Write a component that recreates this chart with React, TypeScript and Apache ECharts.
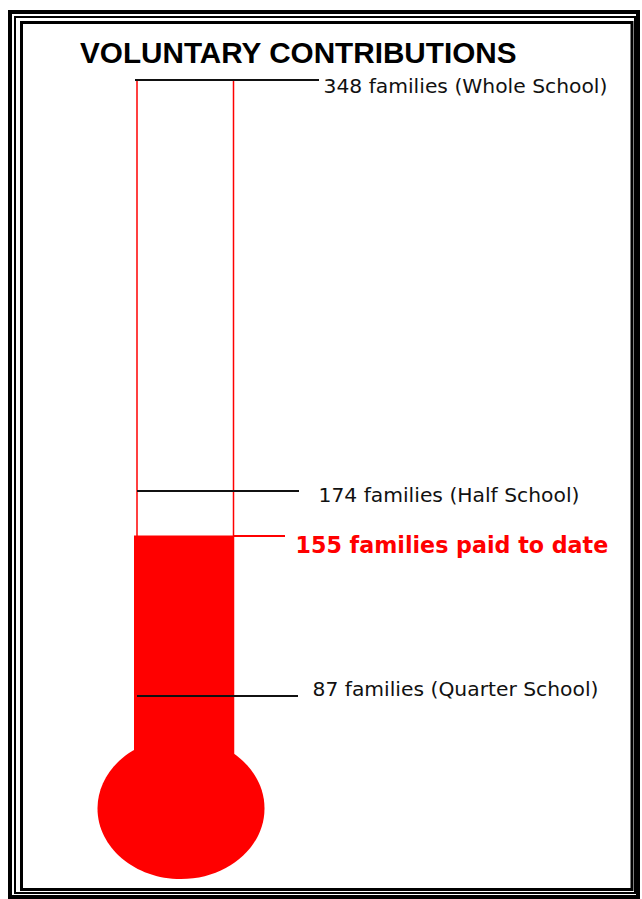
import React, { useEffect, useRef } from 'react';
import * as echarts from 'echarts';

// ---- data ----
const TITLE = 'VOLUNTARY CONTRIBUTIONS';
const paidToDate = 155;
const paidText = 'families paid to date';
const milestoneValues = [348, 174, 87];
const milestoneNames = ['Whole School', 'Half School', 'Quarter School'];

// ---- layout ----
const W = 642;
const H = 899;
const Y_MIN = 30;
const Y_MAX = 380;
const GRID_TOP = 4.4;
const GRID_BOTTOM = 68.5;
const TUBE_CX = 183.5;
const TUBE_W = 99;
const LINE_X0 = [135, 137, 137];
const LINE_X1 = [319, 299, 298];
const LABEL_GAP = [4, 19, 14];
const LABEL_DY = [6, 4, -7];
const PAID_X0 = 233;
const PAID_X1 = 285;
const PAID_GAP = 10;
const PAID_DY = 10;

const RED = '#ff0000';
const INK = '#111111';

export default function App() {
  const ref = useRef<HTMLDivElement>(null);
  useEffect(() => {
    if (!ref.current) return;
    const chart = echarts.init(ref.current, undefined, { renderer: 'svg' });

    const milestoneLines = milestoneValues.map((v, i) => [
      {
        coord: [LINE_X0[i], v],
        lineStyle: { color: INK, width: 2, type: 'solid' },
        label: { show: false },
      },
      { coord: [LINE_X1[i], v] },
    ]);

    const paidLine = [
      {
        coord: [PAID_X0, paidToDate],
        lineStyle: { color: RED, width: 2, type: 'solid' },
        label: { show: false },
      },
      { coord: [PAID_X1, paidToDate] },
    ];

    const labelData = [
      ...milestoneValues.map((v, i) => ({
        value: [LINE_X1[i], v],
        label: {
          show: true,
          position: 'right',
          distance: 0,
          offset: [LABEL_GAP[i], LABEL_DY[i]],
          formatter: `${v} families (${milestoneNames[i]})`,
          color: INK,
          opacity: 1,
          fontSize: 20.3,
          fontFamily: 'DejaVu Sans',
        },
      })),
      {
        value: [PAID_X1, paidToDate],
        label: {
          show: true,
          position: 'right',
          distance: 0,
          offset: [PAID_GAP, PAID_DY],
          formatter: `${paidToDate} ${paidText}`,
          color: RED,
          opacity: 1,
          fontSize: 22.2,
          fontWeight: 'bold',
          fontFamily: 'DejaVu Sans',
        },
      },
    ];

    const frame = [
      { x: 10, y: 12, width: 628, height: 885, lw: 4 },
      { x: 15, y: 17, width: 620, height: 876, lw: 2 },
      { x: 21.5, y: 22.5, width: 610.5, height: 867, lw: 3 },
    ];

    chart.setOption({
      animation: false,
      backgroundColor: '#ffffff',
      title: {
        text: TITLE,
        left: 80,
        top: 37,
        padding: 0,
        textStyle: {
          fontFamily: 'Liberation Sans',
          fontWeight: 'bold',
          fontSize: 29.7,
          lineHeight: 30,
          color: '#000000',
        },
      },
      grid: { left: 0, right: 0, top: GRID_TOP, bottom: GRID_BOTTOM },
      xAxis: {
        type: 'value',
        min: 0,
        max: W,
        show: false,
        splitLine: { show: false },
      },
      yAxis: {
        type: 'value',
        min: Y_MIN,
        max: Y_MAX,
        show: false,
        splitLine: { show: false },
      },
      graphic: [
        ...frame.map((f) => ({
          type: 'rect',
          z: 1,
          silent: true,
          shape: { x: f.x, y: f.y, width: f.width, height: f.height },
          style: { fill: 'none', stroke: '#000000', lineWidth: f.lw },
        })),
        {
          type: 'line',
          z: 1,
          silent: true,
          shape: { x1: 137, y1: 79, x2: 137, y2: 750 },
          style: { stroke: RED, lineWidth: 1.5 },
        },
        {
          type: 'line',
          z: 1,
          silent: true,
          shape: { x1: 233.5, y1: 79, x2: 233.5, y2: 755 },
          style: { stroke: RED, lineWidth: 1.5 },
        },
        {
          type: 'ellipse',
          z: 3,
          silent: true,
          shape: { cx: 181, cy: 808.4, rx: 83.5, ry: 70.6 },
          style: { fill: RED },
        },
      ],
      series: [
        {
          type: 'bar',
          barWidth: TUBE_W,
          clip: true,
          z: 2,
          itemStyle: { color: RED },
          data: [[TUBE_CX, paidToDate]],
          markLine: {
            silent: true,
            symbol: ['none', 'none'],
            animation: false,
            z: 5,
            data: [...milestoneLines, paidLine],
          },
        },
        {
          type: 'scatter',
          symbol: 'circle',
          symbolSize: 1,
          silent: true,
          z: 6,
          itemStyle: { color: 'rgba(0,0,0,0)', opacity: 1 },
          clip: false,
          data: labelData,
        },
      ],
    });
    return () => chart.dispose();
  }, []);

  return (
    <div
      ref={ref}
      style={{ position: 'absolute', left: 0, top: 0, width: W, height: H }}
    />
  );
}
